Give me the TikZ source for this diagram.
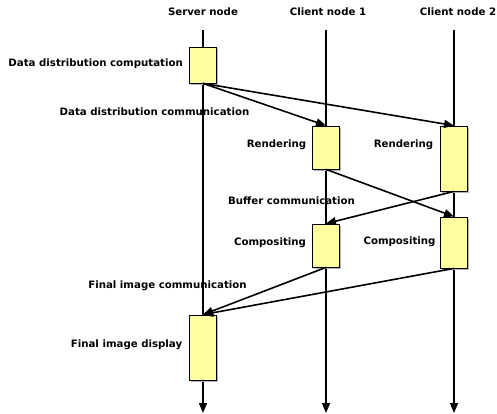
\documentclass[tikz,border=0pt]{standalone}
\usepackage{fontspec}
\setmainfont{DejaVu Sans}
\usetikzlibrary{arrows.meta,shadows}
\definecolor{actfill}{RGB}{255,255,160}
\begin{document}
\begin{tikzpicture}[x=1pt,y=-1pt,
  lbl/.style={font=\fontsize{10.2}{12}\selectfont\bfseries, inner sep=0pt},
  act/.style={draw=black, line width=0.8pt, fill=actfill, minimum width=27pt,
    inner sep=0pt, drop shadow={shadow xshift=1.6pt, shadow yshift=-1.6pt,
    fill=gray!60, opacity=1}},
  life/.style={line width=1.4pt},
  tip/.style={-{Triangle[length=10pt,width=8pt]}},
  msg/.style={line width=1.6pt, tip}]
\useasboundingbox (0,0) rectangle (497,414);

% lifeline ends
\coordinate (st) at (203,30);  \coordinate (sb) at (203,413);
\coordinate (at) at (326,30);  \coordinate (ab) at (326,413);
\coordinate (bt) at (454,30);  \coordinate (bb) at (454,413);
\draw[life, tip] (st) -- (sb);
\draw[life, tip] (at) -- (ab);
\draw[life, tip] (bt) -- (bb);

% headers
\node[lbl] (hs) at (203,12) {Server node};
\node[lbl] (ha) at (328,12) {Client node 1};
\node[lbl] (hb) at (458,12) {Client node 2};

% activity boxes
\node[act, minimum height=36pt] (sv1) at (203,65) {};
\node[act, minimum height=43pt] (c1r) at (326,147.5) {};
\node[act, minimum height=65pt] (c2r) at (454,158.5) {};
\node[act, minimum height=43pt] (c1c) at (326,245.5) {};
\node[act, minimum height=51pt] (c2c) at (454,242.5) {};
\node[act, minimum height=65pt] (svd) at (203,347.5) {};

% messages
\draw[msg] (sv1.south) -- (c1r.north);
\draw[msg] (sv1.south) -- (c2r.north);
\draw[msg] (c1r.south) -- (c2c.north);
\draw[msg] (c2r.south) -- (c1c.north);
\draw[msg] (c1c.south) -- (svd.north);
\draw[msg] (c2c.south) -- (svd.north);

% labels
\node[lbl, anchor=east] (l1) at (183,64) {Data distribution computation};
\node[lbl] (l2) at (154.5,112) {Data distribution communication};
\node[lbl] (l3) at (276.5,145) {Rendering};
\node[lbl] (l4) at (403.5,145) {Rendering};
\node[lbl] (l5) at (291.5,201) {Buffer communication};
\node[lbl] (l6) at (270,243) {Compositing};
\node[lbl] (l7) at (399.5,242) {Compositing};
\node[lbl] (l8) at (167.5,286) {Final image communication};
\node[lbl] (l9) at (126.5,345) {Final image display};
\end{tikzpicture}
\end{document}
